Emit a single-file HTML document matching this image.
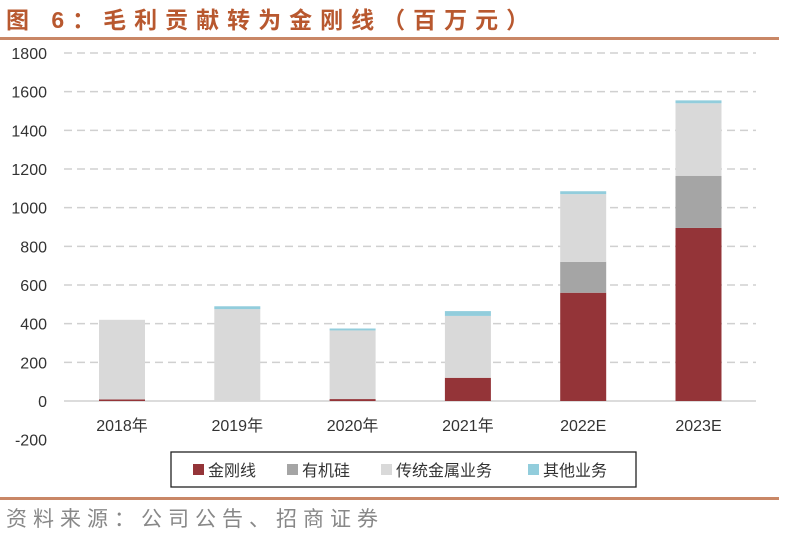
<!DOCTYPE html>
<html><head><meta charset="utf-8"><style>
body{margin:0;background:#fff;width:789px;height:538px;overflow:hidden;font-family:"Liberation Sans","Noto Sans CJK SC",sans-serif;}
</style></head><body>
<svg width="789" height="538">
<text x="6" y="28" font-size="23" font-weight="bold" letter-spacing="8" fill="#b8582f" font-family="Liberation Sans,Noto Sans CJK SC,sans-serif">图 6：毛利贡献转为金刚线（百万元）</text>
<rect x="0" y="37" width="779" height="3" fill="#c98766"/>
<g id="grid"></g><g id="bars"></g><g id="labels"></g>
<rect x="171" y="452" width="465" height="35" fill="#fff" stroke="#222" stroke-width="1.3"/>
<g id="legend"></g>
<rect x="0" y="497" width="779" height="3" fill="#c98766"/>
<text x="6" y="526" font-size="21" letter-spacing="6" fill="#888">资料来源：公司公告、招商证券</text>
</svg>
<script>
const categories=["2018年","2019年","2020年","2021年","2022E","2023E"];
const seriesNames=["金刚线","有机硅","传统金属业务","其他业务"];
const colors=["#943438","#a5a5a5","#d9d9d9","#92cddc"];
const gold=[8,0,10,120,560,895];
const silicon=[0,0,0,0,160,270];
const traditional=[412,475,355,320,350,375];
const other=[0,15,10,25,15,15];
const ticks=[-200,0,200,400,600,800,1000,1200,1400,1600,1800];
const NS="http://www.w3.org/2000/svg";
const y=v=>401-v*(348/1800);
const x=i=>122+i*115.3;
function mk(t,a,p){const e=document.createElementNS(NS,t);for(const k in a)e.setAttribute(k,a[k]);p.appendChild(e);return e;}
const G=document.getElementById('grid'),B=document.getElementById('bars'),L=document.getElementById('labels'),LG=document.getElementById('legend');
ticks.forEach(t=>{
 if(t>0){const l=mk('line',{x1:64,x2:756,y1:y(t),y2:y(t),stroke:'#d0d0d0','stroke-width':1.5,'stroke-dasharray':'8,5'},G);
 
 }
 const tx=mk('text',{x:47,y:y(t)+6,'text-anchor':'end','font-size':16,fill:'#333'},L);tx.textContent=t;
 
 
});
const zl=mk('line',{x1:64,x2:756,y1:y(0),y2:y(0),stroke:'#d0d0d0','stroke-width':1.5},G);


const series=[gold,silicon,traditional,other];
categories.forEach((c,i)=>{
 let base=0;
 series.forEach((s,k)=>{const v=s[i];if(v>0){const r=mk('rect',{x:x(i)-23,width:46,y:y(base+v),height:y(base)-y(base+v),fill:colors[k]},B);
 
 }
 base+=v;});
 const t=mk('text',{x:x(i),y:431,'text-anchor':'middle','font-size':16,fill:'#333'},L);t.textContent=c;
 
 
});
const lx=[193,287,381,528];
seriesNames.forEach((n,k)=>{
 const r=mk('rect',{x:lx[k],y:464,width:11,height:11,fill:colors[k]},LG);
 
 
 const t=mk('text',{x:lx[k]+15,y:476,'font-size':16,fill:'#333'},LG);t.textContent=n;
 
 
});
</script>
</body></html>
